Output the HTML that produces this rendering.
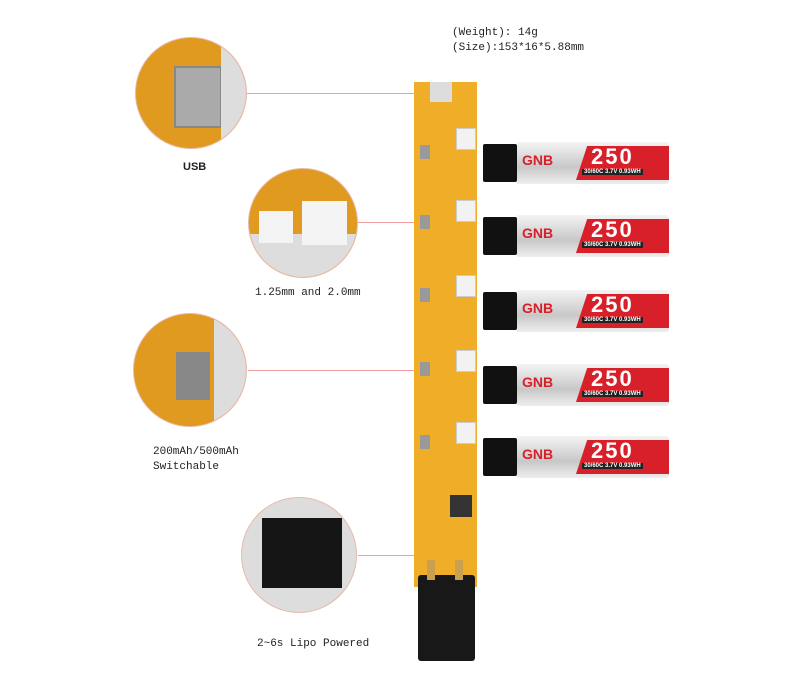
<!DOCTYPE html><html><head><style>
body{margin:0;background:#fff;width:800px;height:700px;position:relative;overflow:hidden;font-family:"Liberation Mono",monospace;}
.t{position:absolute;font-size:11px;color:#222;white-space:pre}
.c{position:absolute;border-radius:50%;border:1.5px solid #e8b8a8;overflow:hidden;box-sizing:border-box}
.ln{position:absolute;height:1px;background:#f0a0a0}
.bat{position:absolute;left:483px;width:186px;height:42px}
.bat .k{position:absolute;left:0;top:2px;width:34px;height:38px;background:#111;border-radius:2px}
.bat .b{position:absolute;left:33px;top:0;width:153px;height:42px;background:linear-gradient(#f4f4f4,#c8c8c8 60%,#eee);border-radius:3px;overflow:hidden}
.bat .r{position:absolute;left:60px;top:4px;width:93px;height:34px;background:#d8202a;clip-path:polygon(12% 0,100% 0,100% 100%,0 100%)}
.bat .n{position:absolute;left:75px;top:2px;color:#fff;font:bold 22px "Liberation Sans",sans-serif;letter-spacing:2px}
.bat .s{position:absolute;left:66px;top:27px;color:#fff;font:bold 6px "Liberation Sans",sans-serif;background:#222;padding:0 2px}
.bat .g{position:absolute;left:6px;top:10px;color:#d8202a;font:bold 14px "Liberation Sans",sans-serif}
.wc{position:absolute;left:456px;width:20px;height:22px;background:#f2f2f2;border:1px solid #ccc;box-sizing:border-box}
.sw{position:absolute;left:420px;width:10px;height:14px;background:#999}
</style></head><body>
<div class="t" style="left:452px;top:27px">(Weight): 14g</div>
<div class="t" style="left:452px;top:42px">(Size):153*16*5.88mm</div>

<div class="ln" style="left:247px;top:93px;width:175px"></div>
<div class="ln" style="left:358px;top:222px;width:64px"></div>
<div class="ln" style="left:248px;top:370px;width:174px"></div>
<div class="ln" style="left:358px;top:555px;width:64px"></div>

<div class="c" style="left:135px;top:37px;width:112px;height:112px;background:#e09a20">
 <div style="position:absolute;left:38px;top:28px;width:44px;height:58px;background:#aaa;border:2px solid #888"></div>
 <div style="position:absolute;left:85px;top:0;width:30px;height:112px;background:#ddd"></div></div>
<div class="c" style="left:248px;top:168px;width:110px;height:110px;background:#e09a20">
 <div style="position:absolute;left:0;top:65px;width:110px;height:45px;background:#ddd"></div>
 <div style="position:absolute;left:10px;top:42px;width:34px;height:32px;background:#f4f4f4"></div>
 <div style="position:absolute;left:53px;top:32px;width:45px;height:44px;background:#f4f4f4"></div></div>
<div class="c" style="left:133px;top:313px;width:114px;height:114px;background:#e09a20">
 <div style="position:absolute;left:80px;top:0;width:34px;height:114px;background:#ddd"></div>
 <div style="position:absolute;left:42px;top:38px;width:34px;height:48px;background:#888"></div></div>
<div class="c" style="left:241px;top:497px;width:116px;height:116px;background:#ddd">
 <div style="position:absolute;left:20px;top:20px;width:80px;height:70px;background:#151515"></div></div>

<div class="t" style="left:183px;top:161px;font-family:'Liberation Sans';font-weight:bold">USB</div>
<div class="t" style="left:255px;top:287px">1.25mm and 2.0mm</div>
<div class="t" style="left:153px;top:446px">200mAh/500mAh</div>
<div class="t" style="left:153px;top:461px">Switchable</div>
<div class="t" style="left:257px;top:638px">2~6s Lipo Powered</div>

<div style="position:absolute;left:414px;top:82px;width:63px;height:505px;background:#f0ae28"></div>
<div style="position:absolute;left:430px;top:82px;width:22px;height:20px;background:#ddd"></div>
<div class="wc" style="top:128px"></div><div class="wc" style="top:200px"></div><div class="wc" style="top:275px"></div><div class="wc" style="top:350px"></div><div class="wc" style="top:422px"></div>
<div class="sw" style="top:145px"></div><div class="sw" style="top:215px"></div><div class="sw" style="top:288px"></div><div class="sw" style="top:362px"></div><div class="sw" style="top:435px"></div>
<div style="position:absolute;left:450px;top:495px;width:22px;height:22px;background:#333"></div>
<div style="position:absolute;left:418px;top:575px;width:57px;height:86px;background:#181818;border-radius:3px"></div>
<div style="position:absolute;left:427px;top:560px;width:8px;height:20px;background:#c9a050"></div>
<div style="position:absolute;left:455px;top:560px;width:8px;height:20px;background:#c9a050"></div>

<div class="bat" style="top:142px"><div class="b"><div class="r"></div><div class="n">250</div><div class="s">30/60C 3.7V 0.93WH</div><div class="g">GNB</div></div><div class="k"></div></div>
<div class="bat" style="top:215px"><div class="b"><div class="r"></div><div class="n">250</div><div class="s">30/60C 3.7V 0.93WH</div><div class="g">GNB</div></div><div class="k"></div></div>
<div class="bat" style="top:290px"><div class="b"><div class="r"></div><div class="n">250</div><div class="s">30/60C 3.7V 0.93WH</div><div class="g">GNB</div></div><div class="k"></div></div>
<div class="bat" style="top:364px"><div class="b"><div class="r"></div><div class="n">250</div><div class="s">30/60C 3.7V 0.93WH</div><div class="g">GNB</div></div><div class="k"></div></div>
<div class="bat" style="top:436px"><div class="b"><div class="r"></div><div class="n">250</div><div class="s">30/60C 3.7V 0.93WH</div><div class="g">GNB</div></div><div class="k"></div></div>
</body></html>
